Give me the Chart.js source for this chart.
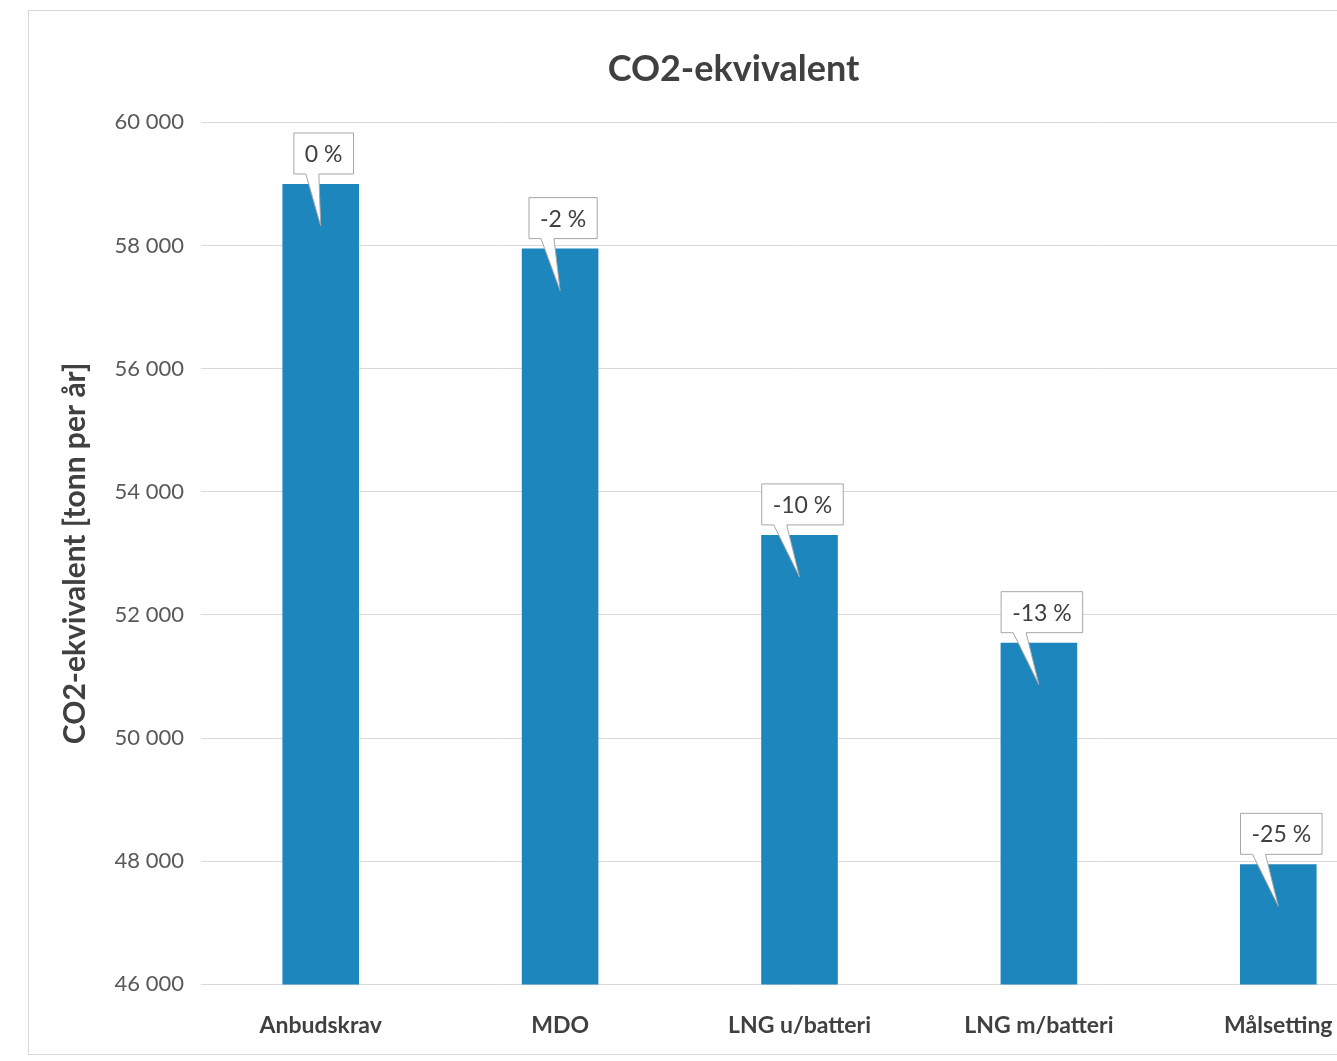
<!DOCTYPE html>
<html>
<head>
<meta charset="utf-8">
<script src="https://cdn.jsdelivr.net/npm/chart.js@4.4.1/dist/chart.umd.min.js"></script>
<style>
  html, body { margin: 0; padding: 0; background: #ffffff; overflow: hidden; width: 1337px; height: 1061px; }
  #frame { position: absolute; left: 28px; top: 10px; width: 1412px; height: 1045px; border: 1px solid #d9d9d9; box-sizing: border-box; }
  #c { position: absolute; left: 0; top: 0; }
</style>
</head>
<body>
<div id="frame"><canvas id="c" width="1410" height="1055"></canvas></div>
<script>
const categories = ['Anbudskrav', 'MDO', 'LNG u/batteri', 'LNG m/batteri', 'Målsetting'];
const co2Values = [59000, 57950, 53300, 51550, 47950];
const changeLabels = ['0 %', '-2 %', '-10 %', '-13 %', '-25 %'];
const yMin = 46000, yMax = 60000, yStep = 2000;
const chartTitle = 'CO2-ekvivalent';
const yAxisTitle = 'CO2-ekvivalent [tonn per år]';

const FONT = 'Lato, "Open Sans", "DejaVu Sans", sans-serif';

const calloutPlugin = {
  id: 'callouts',
  afterDatasetsDraw(chart) {
    const ctx = chart.ctx;
    const meta = chart.getDatasetMeta(0);
    ctx.save();
    ctx.font = '23px ' + FONT;
    meta.data.forEach((bar, i) => {
      const text = changeLabels[i];
      const tw = ctx.measureText(text).width;
      const w = tw + 22, h = 41;
      const left = bar.x - w / 2 + 3;
      const bottom = bar.y - 10;
      const top = bottom - h;
      const tipX = bar.x, tipY = bottom + 52;
      ctx.beginPath();
      ctx.moveTo(left, top);
      ctx.lineTo(left + w, top);
      ctx.lineTo(left + w, bottom);
      ctx.lineTo(left + 25, bottom);
      ctx.lineTo(tipX, tipY);
      ctx.lineTo(left + 12, bottom);
      ctx.lineTo(left, bottom);
      ctx.closePath();
      ctx.fillStyle = '#ffffff';
      ctx.fill();
      ctx.strokeStyle = '#a6a6a6';
      ctx.lineWidth = 1;
      ctx.stroke();
      ctx.fillStyle = '#404040';
      ctx.textAlign = 'center';
      ctx.textBaseline = 'middle';
      ctx.fillText(text, left + w / 2, top + h / 2 + 1);
    });
    ctx.restore();
  }
};

new Chart(document.getElementById('c'), {
  type: 'bar',
  data: {
    labels: categories,
    datasets: [{
      data: co2Values,
      backgroundColor: '#1d86bd',
      borderWidth: 0,
      categoryPercentage: 1.0,
      barPercentage: 0.32
    }]
  },
  options: {
    responsive: false,
    animation: false,
    devicePixelRatio: 1,
    layout: { padding: { left: 40, right: 41, top: 0, bottom: 0 } },
    plugins: {
      legend: { display: false },
      tooltip: { enabled: false },
      title: {
        display: true,
        text: chartTitle,
        color: '#404040',
        font: { family: FONT, size: 36, weight: 'bold', lineHeight: 1.15 },
        padding: { top: 38, bottom: 32 }
      }
    },
    scales: {
      x: {
        grid: { display: false, drawTicks: false },
        border: { display: false },
        ticks: {
          color: '#404040',
          font: { family: FONT, size: 23, weight: 'bold' },
          padding: 27,
          maxRotation: 0,
          autoSkip: false
        }
      },
      y: {
        min: yMin,
        max: yMax,
        afterFit(scale) { scale.width = 132; },
        grid: { color: '#d9d9d9', lineWidth: 1, drawTicks: false },
        border: { display: false },
        ticks: {
          stepSize: yStep,
          padding: 17,
          color: '#595959',
          font: { family: FONT, size: 22 },
          callback: (v) => String(v).replace(/\B(?=(\d{3})+(?!\d))/g, '\u00a0')
        },
        title: {
          display: true,
          text: yAxisTitle,
          color: '#404040',
          font: { family: FONT, size: 30, weight: 'bold', lineHeight: 1.2 },
          padding: { top: -12, bottom: 0 }
        }
      }
    }
  },
  plugins: [calloutPlugin]
});
</script>
</body>
</html>
